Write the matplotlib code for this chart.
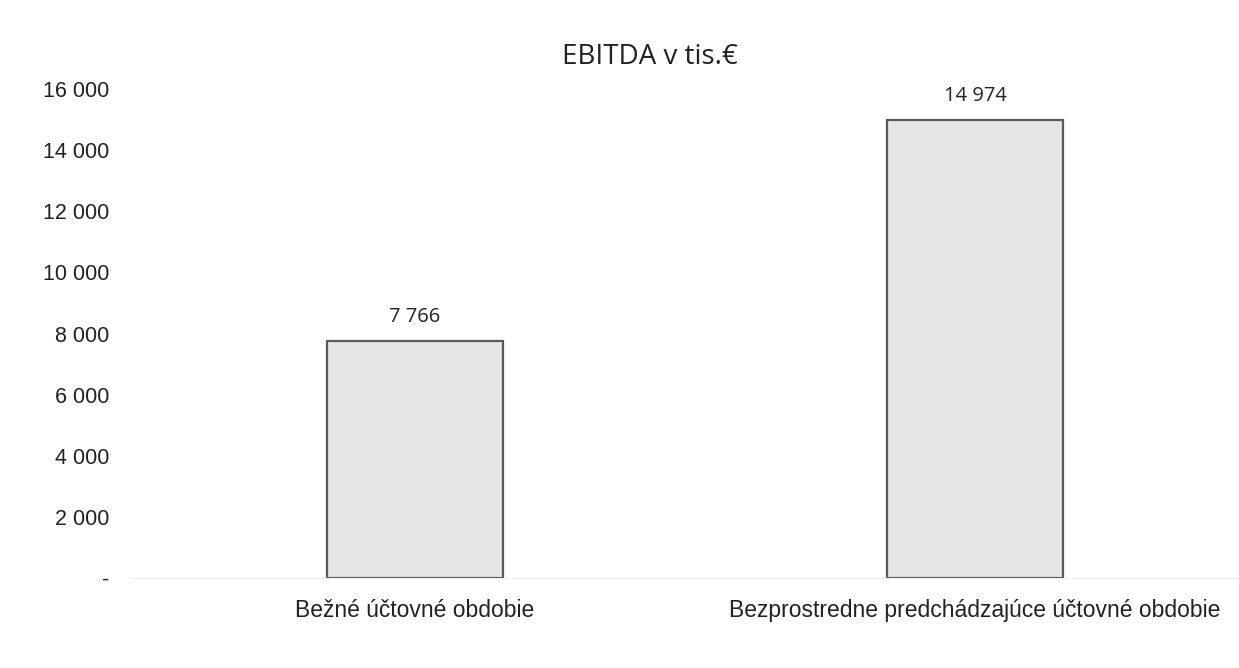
import matplotlib.pyplot as plt
from matplotlib.ticker import FuncFormatter

# data
categories = ['Bežné účtovné obdobie', 'Bezprostredne predchádzajúce účtovné obdobie']
values = [7766, 14974]
title = 'EBITDA v tis.€'

def fmt(v, pos=None):
    if v == 0:
        return '-'
    return '{:,.0f}'.format(v).replace(',', ' ')

fig = plt.figure(figsize=(12.39, 6.68), dpi=100)
ax = fig.add_axes([130 / 1239, 90 / 668, (1239 - 130) / 1239, (578 - 89) / 668])

x = list(range(len(values)))
ax.bar(x, values, width=0.316, color='#e6e6e6', edgecolor='#5a5a5a', linewidth=1.6)

ax.set_xlim(-285 / 560, (1239 - 415) / 560)
ax.set_ylim(0, 16000)
ax.set_yticks(range(0, 16001, 2000))
ax.yaxis.set_major_formatter(FuncFormatter(fmt))
ax.set_xticks(x)
ax.set_xticklabels(categories, fontsize=16.5, family='Liberation Sans', color='#222222')
ax.tick_params(axis='y', labelsize=15.5, length=0, pad=15, labelcolor='#222222')
ax.tick_params(axis='x', length=0, pad=15)
for lab in ax.get_yticklabels():
    lab.set_family('Liberation Sans')

for s in ['top', 'right', 'left']:
    ax.spines[s].set_visible(False)
ax.spines['bottom'].set_color('#f0f0f0')

for xi, v in zip(x, values):
    ax.annotate(fmt(v), (xi, v), xytext=(0, 10), textcoords='offset points',
                ha='center', va='bottom', fontsize=14.5, family='Open Sans', color='#222222')

fig.text(650 / 1239, 1 - 57 / 668, title, ha='center', va='center',
         fontsize=20, family='Open Sans', color='#222222')

fig.savefig('out.png', dpi=100)
